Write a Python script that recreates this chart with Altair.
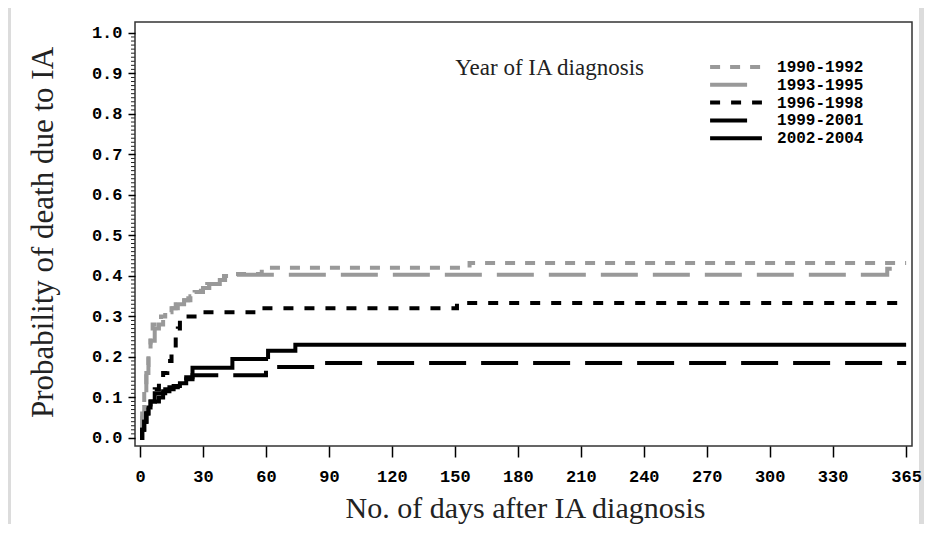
import altair as alt
import pandas as pd
import numpy as np

names = ["1990-1992", "1993-1995", "1996-1998", "1999-2001", "2002-2004"]
colors = ["#999999", "#999999", "#000000", "#000000", "#000000"]
dashes = [[10, 10], [37, 15], [10, 11], [37, 15], [1, 0]]
widths = [4, 4, 4.5, 5, 2.8]

days_1990 = [0, 1, 2, 3, 4, 5, 6, 8, 10, 12, 14, 17, 20, 23, 26, 29, 32, 36, 40, 44, 58, 157, 365]
prob_1990 = [0, 0.06, 0.12, 0.18, 0.22, 0.25, 0.28, 0.29, 0.30, 0.31, 0.32, 0.33, 0.34, 0.35, 0.36, 0.37,
             0.38, 0.39, 0.40, 0.405, 0.42, 0.432, 0.432]
days_1993 = [0, 1, 2, 3, 4, 5, 7, 9, 11, 13, 15, 18, 21, 24, 27, 30, 33, 38, 45, 356, 365]
prob_1993 = [0, 0.05, 0.10, 0.16, 0.20, 0.24, 0.27, 0.28, 0.30, 0.31, 0.32, 0.33, 0.34, 0.35, 0.36, 0.37,
             0.38, 0.39, 0.403, 0.418, 0.418]
days_1996 = [0, 1, 2, 3, 5, 7, 9, 11, 13, 15, 17, 18, 19, 21, 30, 54, 151, 365]
prob_1996 = [0, 0.02, 0.04, 0.06, 0.09, 0.12, 0.14, 0.16, 0.19, 0.22, 0.25, 0.27, 0.29, 0.30, 0.31, 0.32,
             0.333, 0.333]
days_1999 = [0, 1, 2, 3, 4, 5, 7, 9, 11, 14, 18, 22, 25, 60, 86, 365]
prob_1999 = [0, 0.02, 0.04, 0.06, 0.07, 0.08, 0.09, 0.10, 0.115, 0.125, 0.135, 0.145, 0.155, 0.175,
             0.185, 0.185]
days_2002 = [0, 1, 2, 3, 4, 5, 7, 12, 16, 19, 22, 25, 44, 61, 74, 365]
prob_2002 = [0, 0.02, 0.04, 0.06, 0.075, 0.09, 0.11, 0.12, 0.128, 0.135, 0.15, 0.173, 0.195, 0.215,
             0.23, 0.23]

x_ticks = [0, 30, 60, 90, 120, 150, 180, 210, 240, 270, 300, 330, 365]
y_ticks = [0.0, 0.1, 0.2, 0.3, 0.4, 0.5, 0.6, 0.7, 0.8, 0.9, 1.0]
y_minor = [round(v, 2) for v in np.arange(0.0, 1.001, 0.01) if round(v * 100) % 10 != 0]

# in-plot legend placement (in data units)
legend_title = "Year of IA diagnosis"
legend_title_x, legend_title_y = 150.2, 0.914
legend_rows_y = [0.916, 0.872, 0.828, 0.784, 0.740]
legend_sym_x0, legend_sym_x1, legend_label_x = 271.6, 296.3, 303.5

series_days = [days_1990, days_1993, days_1996, days_1999, days_2002]
series_prob = [prob_1990, prob_1993, prob_1996, prob_1999, prob_2002]

rows = []
for name, d, p in zip(names, series_days, series_prob):
    for dd, pp in zip(d, p):
        rows.append({"series": name, "day": dd, "prob": pp})
df = pd.DataFrame(rows)

leg_df = pd.DataFrame({
    "series": names,
    "lx": [legend_sym_x0] * 5,
    "lx2": [legend_sym_x1] * 5,
    "ltx": [legend_label_x] * 5,
    "ly": legend_rows_y,
})
title_df = pd.DataFrame({"t": [legend_title], "tx": [legend_title_x], "ty": [legend_title_y]})

W, H = 777, 424
xscale = alt.Scale(domain=[-2.4, 367.8], nice=False, zero=False)
yscale = alt.Scale(domain=[-0.02, 1.027], nice=False, zero=False)
cscale = alt.Scale(domain=names, range=colors)
dscale = alt.Scale(domain=names, range=dashes)
wscale = alt.Scale(domain=names, range=widths)

one = pd.DataFrame({"k": [0]})
panel = alt.Chart(one).mark_rect(fill="white").encode(
    x=alt.value(-124), x2=alt.value(784), y=alt.value(-16), y2=alt.value(510)
)

minor = alt.Chart(pd.DataFrame({"v": y_minor})).mark_rule(color="#222", strokeWidth=1).encode(
    y=alt.Y("v:Q", scale=yscale), x=alt.value(-4), x2=alt.value(0)
)

lines = alt.Chart(df).mark_line(interpolate="step-after").encode(
    x=alt.X("day:Q", scale=xscale, axis=alt.Axis(
        values=x_ticks, title="No. of days after IA diagnosis", grid=False, domain=False,
        tickSize=11, tickWidth=1.5, tickColor="black", labelFont="Liberation Mono",
        labelFontSize=17, labelFontWeight="bold", labelColor="black", labelPadding=11,
        titleFont="Liberation Serif", titleFontSize=30, titleFontWeight="normal",
        titleColor="#222", titleX=390, titleY=71, titleBaseline="alphabetic", zindex=1,
        labelFlush=False)),
    y=alt.Y("prob:Q", scale=yscale, axis=alt.Axis(
        values=y_ticks, format=".1f", title="Probability of death due to IA", grid=False,
        domain=False, tickSize=7, tickWidth=1.5, tickColor="black", labelFont="Liberation Mono",
        labelFontSize=17, labelFontWeight="bold", labelColor="black", labelPadding=6,
        titleFont="Liberation Serif", titleFontSize=31, titleFontWeight="normal",
        titleColor="#222", titleX=-92, titleY=210, titleAngle=270, titleBaseline="middle",
        titleAlign="center", zindex=1, labelFlush=False)),
    color=alt.Color("series:N", scale=cscale, legend=None),
    strokeDash=alt.StrokeDash("series:N", scale=dscale, legend=None),
    strokeWidth=alt.StrokeWidth("series:N", scale=wscale, legend=None),
    order=alt.Order("day:Q"),
)

leg_sym = alt.Chart(leg_df).mark_rule().encode(
    x=alt.X("lx:Q", scale=xscale), x2="lx2:Q", y=alt.Y("ly:Q", scale=yscale),
    color=alt.Color("series:N", scale=cscale, legend=None),
    strokeDash=alt.StrokeDash("series:N", scale=dscale, legend=None),
    strokeWidth=alt.StrokeWidth("series:N", scale=wscale, legend=None),
)
leg_txt = alt.Chart(leg_df).mark_text(
    align="left", baseline="middle", font="Liberation Mono", fontSize=16,
    fontWeight="bold", color="black"
).encode(x=alt.X("ltx:Q", scale=xscale), y=alt.Y("ly:Q", scale=yscale), text="series:N")
leg_title = alt.Chart(title_df).mark_text(
    align="left", baseline="middle", font="Liberation Serif", fontSize=23, color="#222"
).encode(x=alt.X("tx:Q", scale=xscale), y=alt.Y("ty:Q", scale=yscale), text="t:N")

frame = alt.Chart(one).mark_rect(filled=False, stroke="#333", strokeWidth=1.5).encode(
    x=alt.value(0), x2=alt.value(W), y=alt.value(0), y2=alt.value(H)
)

chart = alt.layer(panel, minor, lines, leg_sym, leg_txt, leg_title, frame).properties(
    width=W, height=H, background="#dcdcdc",
    autosize=alt.AutoSizeParams(type="none"),
    padding={"left": 127, "top": 14, "right": 12, "bottom": 78},
).configure_view(stroke="transparent")

chart.save("out.html", embed_options={"renderer": "svg", "actions": False})
